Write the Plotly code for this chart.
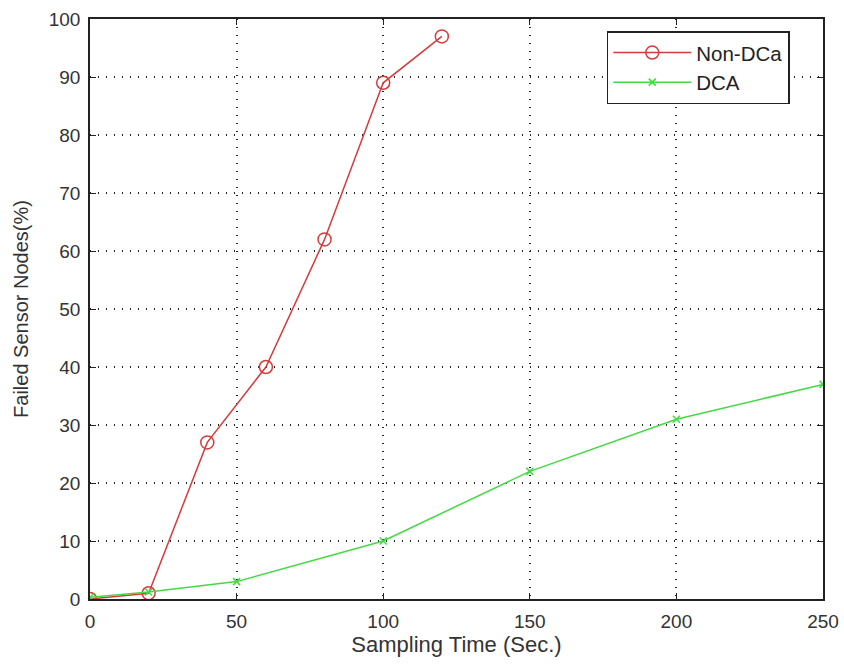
import plotly.graph_objects as go

x_non = [0, 20, 40, 60, 80, 100, 120]
y_non = [0, 1, 27, 40, 62, 89, 97]
x_dca = [0, 20, 50, 100, 150, 200, 250]
y_dca = [0.3, 1.2, 3, 10, 22, 31, 37]
x_ticks = [0, 50, 100, 150, 200, 250]
y_ticks = [0, 10, 20, 30, 40, 50, 60, 70, 80, 90, 100]

FONT = "Liberation Sans, Arial"
fig = go.Figure()
fig.add_trace(go.Scatter(x=x_non, y=y_non, mode="lines+markers", name="Non-DCa", legendgroup="a",
                         line=dict(color="#d43c3c", width=1.5),
                         marker=dict(symbol="circle-open", size=13, color="#d43c3c", line=dict(width=1.5))))
fig.add_trace(go.Scatter(x=x_dca, y=y_dca, mode="lines+markers", name="DCA", legendgroup="b",
                         line=dict(color="#44d944", width=1.5),
                         marker=dict(symbol="x-thin-open", size=7, color="#44d944", line=dict(width=1.5, color="#44d944"))))

axis_common = dict(showline=True, linecolor="#222", linewidth=1.5, mirror="allticks",
                   ticks="inside", ticklen=6, tickcolor="#222", automargin=False,
                   ticklabeloverflow="allow",
                   showgrid=True, gridcolor="#222", griddash="1px,7px", gridwidth=1.5,
                   zeroline=False, tickfont=dict(family=FONT, size=19, color="#333"))
fig.update_xaxes(range=[0, 250], tickvals=x_ticks, ticklabelstandoff=4,
                 title=dict(text="Sampling Time (Sec.)", standoff=6,
                            font=dict(family=FONT, size=22, color="#333")), **axis_common)
fig.update_yaxes(range=[0, 100], tickvals=y_ticks, ticklabelstandoff=4,
                 title=dict(text="Failed Sensor Nodes(%)", standoff=15,
                            font=dict(family=FONT, size=20, color="#333")), **axis_common)
fig.update_layout(width=844, height=664, plot_bgcolor="white", paper_bgcolor="white",
                  margin=dict(l=90, r=21, t=19, b=65),
                  legend=dict(x=0.705, y=0.979, xanchor="left", yanchor="top", bgcolor="white",
                              bordercolor="#222", borderwidth=1.5, itemwidth=78,
                              traceorder="grouped", tracegroupgap=0,
                              font=dict(family=FONT, size=20.5, color="#222")),
                  showlegend=True)
# remove the default 8px page margin so the 844x664 figure fills the window exactly
fig.write_html("out.html", config={"displayModeBar": False},
               post_script="document.body.style.margin='0px';")
